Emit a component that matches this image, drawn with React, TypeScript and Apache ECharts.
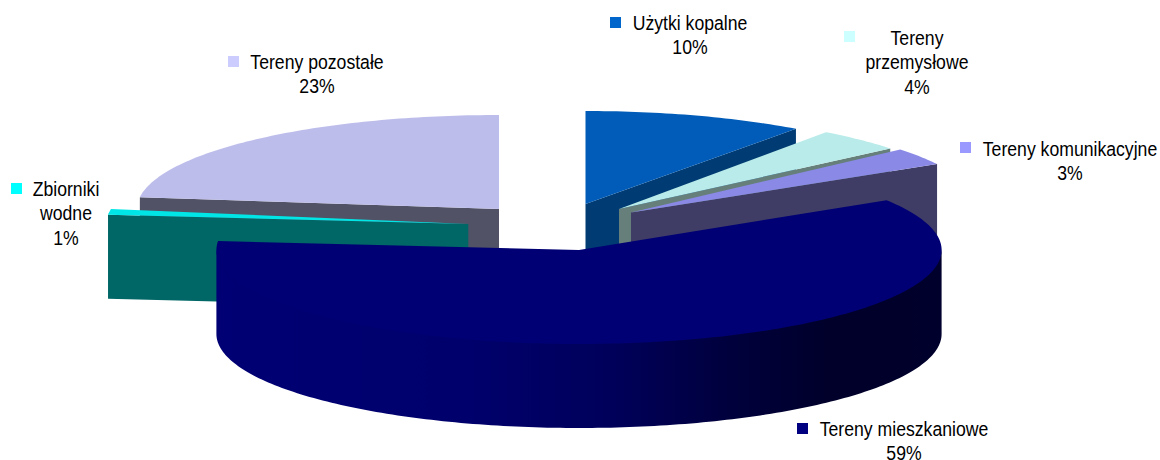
import React, { useEffect, useRef } from "react";
import * as echarts from "echarts";

// Land-use shares, clockwise from twelve o'clock.
const categories = [
  "Użytki kopalne",
  "Tereny\nprzemysłowe",
  "Tereny komunikacyjne",
  "Tereny mieszkaniowe",
  "Zbiorniki\nwodne",
  "Tereny pozostałe",
];
const shares = [10, 4, 3, 59, 1, 23];

const legendColors = ["#0066CC", "#CCFFFF", "#9999FF", "#000080", "#00FFFF", "#CCCCFF"];
const topColors = ["#005CB8", "#B8EBE9", "#8A8AE6", "#000074", "#00E6E6", "#BDBDEB"];
const cutColors = ["#003C73", "#667F7B", "#3F3D66", "#000050", "#006666", "#525266"];

// Each exploded slice has its own centre and radii; trims nudge the edges for the tilted view.
const frames = [
  { cx: 585.5, cy: 204, rx: 358, ry: 93, startTrim: 0, endTrim: 0 },
  { cx: 619, cy: 209, rx: 352, ry: 95, startTrim: 0, endTrim: 0 },
  { cx: 631, cy: 212.5, rx: 352, ry: 98, startTrim: -0.5, endTrim: -0.8 },
  { cx: 579, cy: 250, rx: 362.6, ry: 94, startTrim: -3.2, endTrim: 1.9 },
  { cx: 468.3, cy: 224, rx: 362, ry: 94, startTrim: 2, endTrim: 2 },
  { cx: 499, cy: 209, rx: 362, ry: 94, startTrim: 0, endTrim: 0 },
];
const depth = 84;
const drawOrder = [5, 4, 0, 1, 2, 3];

// Label anchors: centre of the text block's first line and the legend key's corner.
const labelSpots = [
  { x: 690, y: 23, keyX: 610, keyY: 17 },
  { x: 917, y: 38, keyX: 844, keyY: 31 },
  { x: 1070, y: 149, keyX: 960, keyY: 142 },
  { x: 904, y: 429, keyX: 797, keyY: 423 },
  { x: 66, y: 189, keyX: 11, keyY: 183 },
  { x: 317, y: 62, keyX: 228, keyY: 56 },
];

const rad = (deg: number) => (deg * Math.PI) / 180;

function edgePoint(f: (typeof frames)[number], deg: number, drop = 0): number[] {
  return [f.cx + f.rx * Math.sin(rad(deg)), f.cy - f.ry * Math.cos(rad(deg)) + drop];
}

function arcPoints(f: (typeof frames)[number], from: number, to: number, drop = 0): number[][] {
  const steps = Math.max(2, Math.ceil(Math.abs(to - from)));
  const pts: number[][] = [];
  for (let i = 0; i <= steps; i++) pts.push(edgePoint(f, from + ((to - from) * i) / steps, drop));
  return pts;
}

function sliceAngles(index: number) {
  const total = shares.reduce((a, b) => a + b, 0);
  const before = shares.slice(0, index).reduce((a, b) => a + b, 0);
  const f = frames[index];
  return {
    start: (before / total) * 360 + f.startTrim,
    end: ((before + shares[index]) / total) * 360 + f.endTrim,
  };
}

function renderSlice(params: any, api: any) {
  const index = api.value(0) as number;
  const f = frames[index];
  const { start, end } = sliceAngles(index);
  const children: any[] = [];
  const apex = [f.cx, f.cy];
  const apexLow = [f.cx, f.cy + depth];

  // Cut face turned towards the viewer.
  const cutAngle = end <= 180 ? end : start >= 180 ? start : null;
  if (cutAngle !== null) {
    const tip = edgePoint(f, cutAngle);
    const tipLow = edgePoint(f, cutAngle, depth);
    children.push({
      type: "polygon",
      shape: { points: [apex, tip, tipLow, apexLow] },
      style: { fill: cutColors[index] },
    });
  }

  // Outer wall along the front half of the rim, fading to near black on the right.
  // Its upper edge tucks under the top face so no pale seam shows between them.
  const wallFrom = Math.max(start, 90);
  const wallTo = Math.min(end, 270);
  if (wallTo > wallFrom) {
    children.push({
      type: "polygon",
      shape: {
        points: [...arcPoints(f, wallFrom, wallTo, -3), ...arcPoints(f, wallTo, wallFrom, depth)],
      },
      style: {
        fill: new echarts.graphic.LinearGradient(0, 0, 1, 0, [
          { offset: 0, color: "#000074" },
          { offset: 0.35, color: "#00006C" },
          { offset: 0.55, color: "#00005A" },
          { offset: 0.7, color: "#00003E" },
          { offset: 0.85, color: "#00002A" },
          { offset: 1, color: "#00002C" },
        ]),
      },
    });
  }

  children.push({
    type: "polygon",
    shape: { points: [apex, ...arcPoints(f, start, end)] },
    style: { fill: topColors[index] },
  });
  return { type: "group", children };
}

function renderLabel(params: any, api: any) {
  const index = api.value(0) as number;
  const spot = labelSpots[index];
  return {
    type: "group",
    children: [
      {
        type: "rect",
        shape: { x: spot.keyX, y: spot.keyY, width: 11, height: 11 },
        style: { fill: legendColors[index] },
      },
      {
        type: "text",
        x: spot.x,
        y: spot.y - 12,
        scaleX: 0.905,
        style: {
          text: `${categories[index]}\n${shares[index]}%`,
          fill: "#000000",
          font: '19.5px "Liberation Sans", Arial, sans-serif',
          lineHeight: 24.4,
          align: "center",
          verticalAlign: "top",
        },
      },
    ],
  };
}

export default function App() {
  const ref = useRef<HTMLDivElement>(null);

  useEffect(() => {
    if (!ref.current) return;
    const chart = echarts.init(ref.current, null, { renderer: "svg" });
    chart.setOption({
      animation: false,
      backgroundColor: "#ffffff",
      series: [
        {
          type: "custom",
          coordinateSystem: "none",
          silent: true,
          renderItem: renderSlice,
          data: drawOrder.map((i) => [i]),
        },
        {
          type: "custom",
          coordinateSystem: "none",
          silent: true,
          renderItem: renderLabel,
          data: categories.map((_, i) => [i]),
        },
      ],
    });
    return () => chart.dispose();
  }, []);

  return <div ref={ref} style={{ position: "absolute", left: 0, top: 0, width: 1160, height: 460 }} />;
}
